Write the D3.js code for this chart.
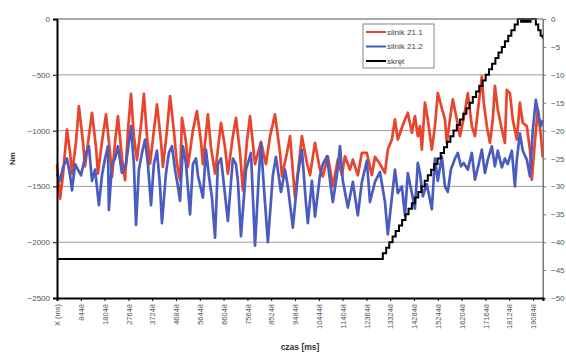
<!DOCTYPE html>
<html>
<head>
<meta charset="utf-8">
<script src="https://cdn.jsdelivr.net/npm/d3@7"></script>
<style>
  body { margin: 0; background: #fff; }
  svg { display: block; font-family: "Liberation Sans", Arial, sans-serif; }
</style>
</head>
<body>
<svg id="chart" width="566" height="353"></svg>
<script>
// x axis: sample number, one label every 100 samples
const xLabels = ["X (ms)", "8448", "18048", "27648", "37248", "46848", "56448", "66048", "75648",
  "85248", "94848", "104448", "114048", "123648", "133248", "142848", "152448", "162048",
  "171648", "181248", "190848"];
const leftTicks = [0, -500, -1000, -1500, -2000, -2500];
const rightTicks = [0, -5, -10, -15, -20, -25, -30, -35, -40, -45, -50];
const seriesNames = ["silnik 21.1", "silnik 21.2", "skręt"];

// [sample, Nm]
const silnik211 = [
  [0, -1300], [13, -1610], [25, -1400], [42, -990], [55, -1200], [63, -1385], [80, -1100], [92, -780],
  [109, -1100], [118, -1320], [134, -1050], [147, -840], [164, -1150], [172, -1385], [189, -1100],
  [206, -855], [223, -1200], [231, -1415], [244, -1100], [256, -870], [273, -1250], [286, -1445],
  [298, -1000], [311, -670], [323, -1050], [336, -1265], [353, -950], [365, -670], [378, -1050],
  [391, -1295], [407, -1000], [420, -765], [437, -1100], [445, -1325], [462, -1000], [475, -690],
  [491, -1000], [504, -1300], [517, -1445], [525, -885], [542, -1100], [550, -1325], [571, -1000],
  [588, -825], [605, -1100], [613, -1300], [634, -855], [647, -1150], [664, -1385], [689, -930],
  [706, -1150], [718, -1385], [739, -1050], [752, -885], [769, -1200], [781, -1535], [798, -1100],
  [811, -870], [832, -1300], [857, -1100], [878, -1300], [895, -1050], [916, -855], [937, -1200],
  [945, -1410], [966, -1200], [979, -1050], [1000, -1600], [1029, -1050], [1050, -1290],
  [1063, -1400], [1084, -1110], [1105, -1350], [1117, -1410], [1138, -1230], [1159, -1500],
  [1180, -1260], [1197, -1400], [1210, -1230], [1231, -1350], [1243, -1260], [1264, -1400],
  [1281, -1200], [1302, -1200], [1323, -1400], [1336, -1235], [1357, -1300], [1378, -1380],
  [1390, -1170], [1407, -1080], [1420, -900], [1432, -1080], [1453, -950], [1474, -840],
  [1491, -1020], [1504, -870], [1516, -1050], [1525, -960], [1533, -1170], [1546, -750],
  [1558, -900], [1575, -1170], [1588, -960], [1600, -665], [1617, -800], [1630, -900],
  [1638, -1110], [1651, -900], [1663, -720], [1680, -900], [1693, -1050], [1714, -830],
  [1726, -665], [1743, -960], [1756, -1050], [1768, -830], [1785, -515], [1793, -750],
  [1806, -960], [1819, -1110], [1831, -900], [1840, -600], [1852, -810], [1869, -990],
  [1882, -1110], [1890, -635], [1903, -665], [1915, -900], [1932, -1080], [1945, -750],
  [1957, -930], [1974, -960], [1987, -1170], [1995, -1440], [2008, -1100], [2020, -810],
  [2033, -1050], [2041, -1240]
];

const silnik212 = [
  [0, -1385], [13, -1450], [25, -1330], [42, -1250], [55, -1400], [63, -1535], [76, -1300],
  [88, -1350], [101, -1400], [122, -1200], [134, -1140], [147, -1450], [160, -1350], [176, -1667],
  [189, -1400], [202, -1250], [214, -1140], [218, -1711], [231, -1300], [244, -1250], [256, -1140],
  [273, -1380], [290, -1300], [311, -960], [323, -1300], [332, -1846], [344, -1350], [357, -1200],
  [370, -1080], [382, -1300], [395, -1667], [407, -1300], [420, -1180], [433, -1500], [441, -1830],
  [458, -1380], [470, -1200], [483, -1140], [496, -1350], [508, -1500], [517, -1630], [529, -1140],
  [542, -1300], [559, -1750], [571, -1300], [584, -1250], [592, -1400], [613, -1600], [626, -1170],
  [638, -1400], [651, -1600], [664, -1960], [676, -1300], [689, -1250], [697, -1400], [718, -1810],
  [739, -1250], [752, -1300], [760, -1450], [773, -1945], [794, -1350], [815, -1200], [832, -2030],
  [848, -1400], [857, -1110], [869, -1500], [886, -2000], [907, -1400], [920, -1235], [941, -1550],
  [958, -1350], [970, -1500], [991, -1870], [1012, -1400], [1029, -1170], [1046, -1650],
  [1054, -1830], [1071, -1450], [1084, -1770], [1105, -1400], [1117, -1300], [1134, -1230],
  [1159, -1640], [1176, -1400], [1189, -1140], [1201, -1450], [1222, -1690], [1243, -1460],
  [1264, -1760], [1281, -1460], [1302, -1270], [1315, -1640], [1336, -1460], [1357, -1370],
  [1378, -1640], [1390, -1930], [1407, -1600], [1420, -1350], [1432, -1560], [1449, -1500],
  [1462, -1760], [1474, -1380], [1491, -1560], [1504, -1700], [1516, -1290], [1525, -1380],
  [1537, -1590], [1554, -1480], [1575, -1705], [1588, -1250], [1600, -1450], [1617, -1230],
  [1630, -1500], [1642, -1550], [1655, -1350], [1672, -1250], [1684, -1200], [1697, -1320],
  [1709, -1290], [1726, -1350], [1743, -1200], [1756, -1440], [1772, -1300], [1785, -1170],
  [1798, -1380], [1810, -1260], [1827, -1140], [1840, -1320], [1852, -1180], [1869, -1330],
  [1882, -1250], [1894, -1300], [1911, -1180], [1924, -1500], [1932, -1260], [1945, -1025],
  [1957, -1180], [1974, -1260], [1987, -1410], [1999, -1000], [2012, -725], [2025, -880],
  [2033, -960], [2041, -905]
];

// [sample, deg] - drawn as steps
const skret = [
  [0, -43], [1369, -42], [1383, -41], [1396, -40], [1410, -39], [1423, -38], [1437, -37],
  [1450, -36], [1464, -35], [1477, -34], [1491, -33], [1504, -32], [1518, -31], [1531, -30],
  [1545, -29], [1558, -28], [1572, -27], [1585, -26], [1599, -25], [1612, -24], [1626, -23],
  [1639, -22], [1653, -21], [1666, -20], [1680, -19], [1693, -18], [1707, -17], [1720, -16],
  [1734, -15], [1747, -14], [1761, -13], [1774, -12], [1788, -11], [1801, -10], [1815, -9],
  [1828, -8], [1842, -7], [1855, -6], [1869, -5], [1882, -4], [1896, -3], [1909, -2], [1923, -1],
  [1936, 0], [1950, -0.5], [1958, 0], [1966, -0.5], [1974, 0], [1982, -0.5], [1990, 0],
  [2012, -1], [2022, -2], [2032, -3], [2041, -3.5]
];

const colors = ["#e8452c", "#4a5cc0", "#000"];

const svg = d3.select("#chart");
const margin = { left: 57, right: 23, top: 19, bottom: 55 };
const W = 566, H = 353;

const x = d3.scaleLinear().domain([0, 2042]).range([margin.left, W - margin.right]);
const y = d3.scaleLinear().domain([-2500, 0]).range([H - margin.bottom, margin.top]);
const y2 = d3.scaleLinear().domain([-50, 0]).range([H - margin.bottom, margin.top]);

// grid
svg.append("g")
  .selectAll("line")
  .data(leftTicks.slice(0, -1))
  .join("line")
  .attr("x1", x.range()[0]).attr("x2", x.range()[1])
  .attr("y1", d => y(d)).attr("y2", d => y(d))
  .attr("stroke", "#9a9a9a").attr("stroke-width", 1);

// right border
svg.append("line")
  .attr("x1", x.range()[1]).attr("x2", x.range()[1])
  .attr("y1", y.range()[1]).attr("y2", y.range()[0])
  .attr("stroke", "#777").attr("stroke-width", 1);

const lineGen = d3.line()
  .x(d => x(d[0]))
  .y(d => y(d[1]));

svg.append("path").datum(silnik211)
  .attr("fill", "none").attr("stroke", colors[0]).attr("stroke-width", 2.7)
  .attr("stroke-linejoin", "round").attr("d", lineGen);

svg.append("path").datum(silnik212)
  .attr("fill", "none").attr("stroke", colors[1]).attr("stroke-width", 2.7)
  .attr("stroke-linejoin", "round").attr("d", lineGen);

const stepGen = d3.line()
  .x(d => x(d[0]))
  .y(d => y2(d[1]))
  .curve(d3.curveStepAfter);

svg.append("path").datum(skret)
  .attr("fill", "none").attr("stroke", colors[2]).attr("stroke-width", 2)
  .attr("d", stepGen);

// left axis
const yAxis = svg.append("g")
  .attr("transform", `translate(${margin.left},0)`)
  .call(d3.axisLeft(y).tickValues(leftTicks).tickSize(4).tickPadding(3).tickFormat(d3.format("d")));
yAxis.select(".domain").attr("stroke", "#000").attr("stroke-width", 2);
yAxis.selectAll("text").attr("font-size", 8).attr("fill", "#555");

// right axis
const y2Axis = svg.append("g")
  .attr("transform", `translate(${W - margin.right},0)`)
  .call(d3.axisRight(y2).tickValues(rightTicks).tickSize(3).tickPadding(5).tickFormat(d3.format("d")));
y2Axis.select(".domain").attr("stroke", "#777");
y2Axis.selectAll(".tick line").attr("stroke", "#777");
y2Axis.selectAll("text").attr("font-size", 8).attr("fill", "#555");

// bottom axis
const xAxis = svg.append("g")
  .attr("transform", `translate(0,${H - margin.bottom})`)
  .call(d3.axisBottom(x).tickValues(d3.range(0, 2001, 100)).tickSize(3)
    .tickFormat((d, i) => xLabels[i]));
xAxis.select(".domain").attr("stroke", "#000").attr("stroke-width", 2);
xAxis.selectAll("text")
  .attr("font-size", 7.5).attr("fill", "#555")
  .attr("text-anchor", "end")
  .attr("transform", "rotate(-90)")
  .attr("x", -6).attr("y", 0).attr("dy", "0.35em");

// top border
svg.append("line")
  .attr("x1", x.range()[0]).attr("x2", x.range()[1])
  .attr("y1", y.range()[1]).attr("y2", y.range()[1])
  .attr("stroke", "#888");

// axis titles
svg.append("text")
  .attr("transform", `translate(15,${(y.range()[0] + y.range()[1]) / 2}) rotate(-90)`)
  .attr("text-anchor", "middle").attr("font-size", 8).attr("font-weight", "bold").attr("fill", "#333")
  .text("Nm");

svg.append("text")
  .attr("x", 300).attr("y", 350)
  .attr("text-anchor", "middle").attr("font-size", 8.5).attr("font-weight", "bold").attr("fill", "#333")
  .text("czas [ms]");

// legend
const legend = svg.append("g").attr("transform", "translate(363,24)");
legend.append("rect")
  .attr("width", 71).attr("height", 44)
  .attr("fill", "#fff").attr("stroke", "#888");
const items = legend.selectAll("g")
  .data(seriesNames)
  .join("g")
  .attr("transform", (d, i) => `translate(0,${8 + i * 14.5})`);
items.append("line")
  .attr("x1", 3).attr("x2", 23)
  .attr("stroke", (d, i) => colors[i]).attr("stroke-width", 2);
items.append("text")
  .attr("x", 24).attr("dy", "0.35em")
  .attr("font-size", 8).attr("fill", "#444")
  .text(d => d);
</script>
</body>
</html>
